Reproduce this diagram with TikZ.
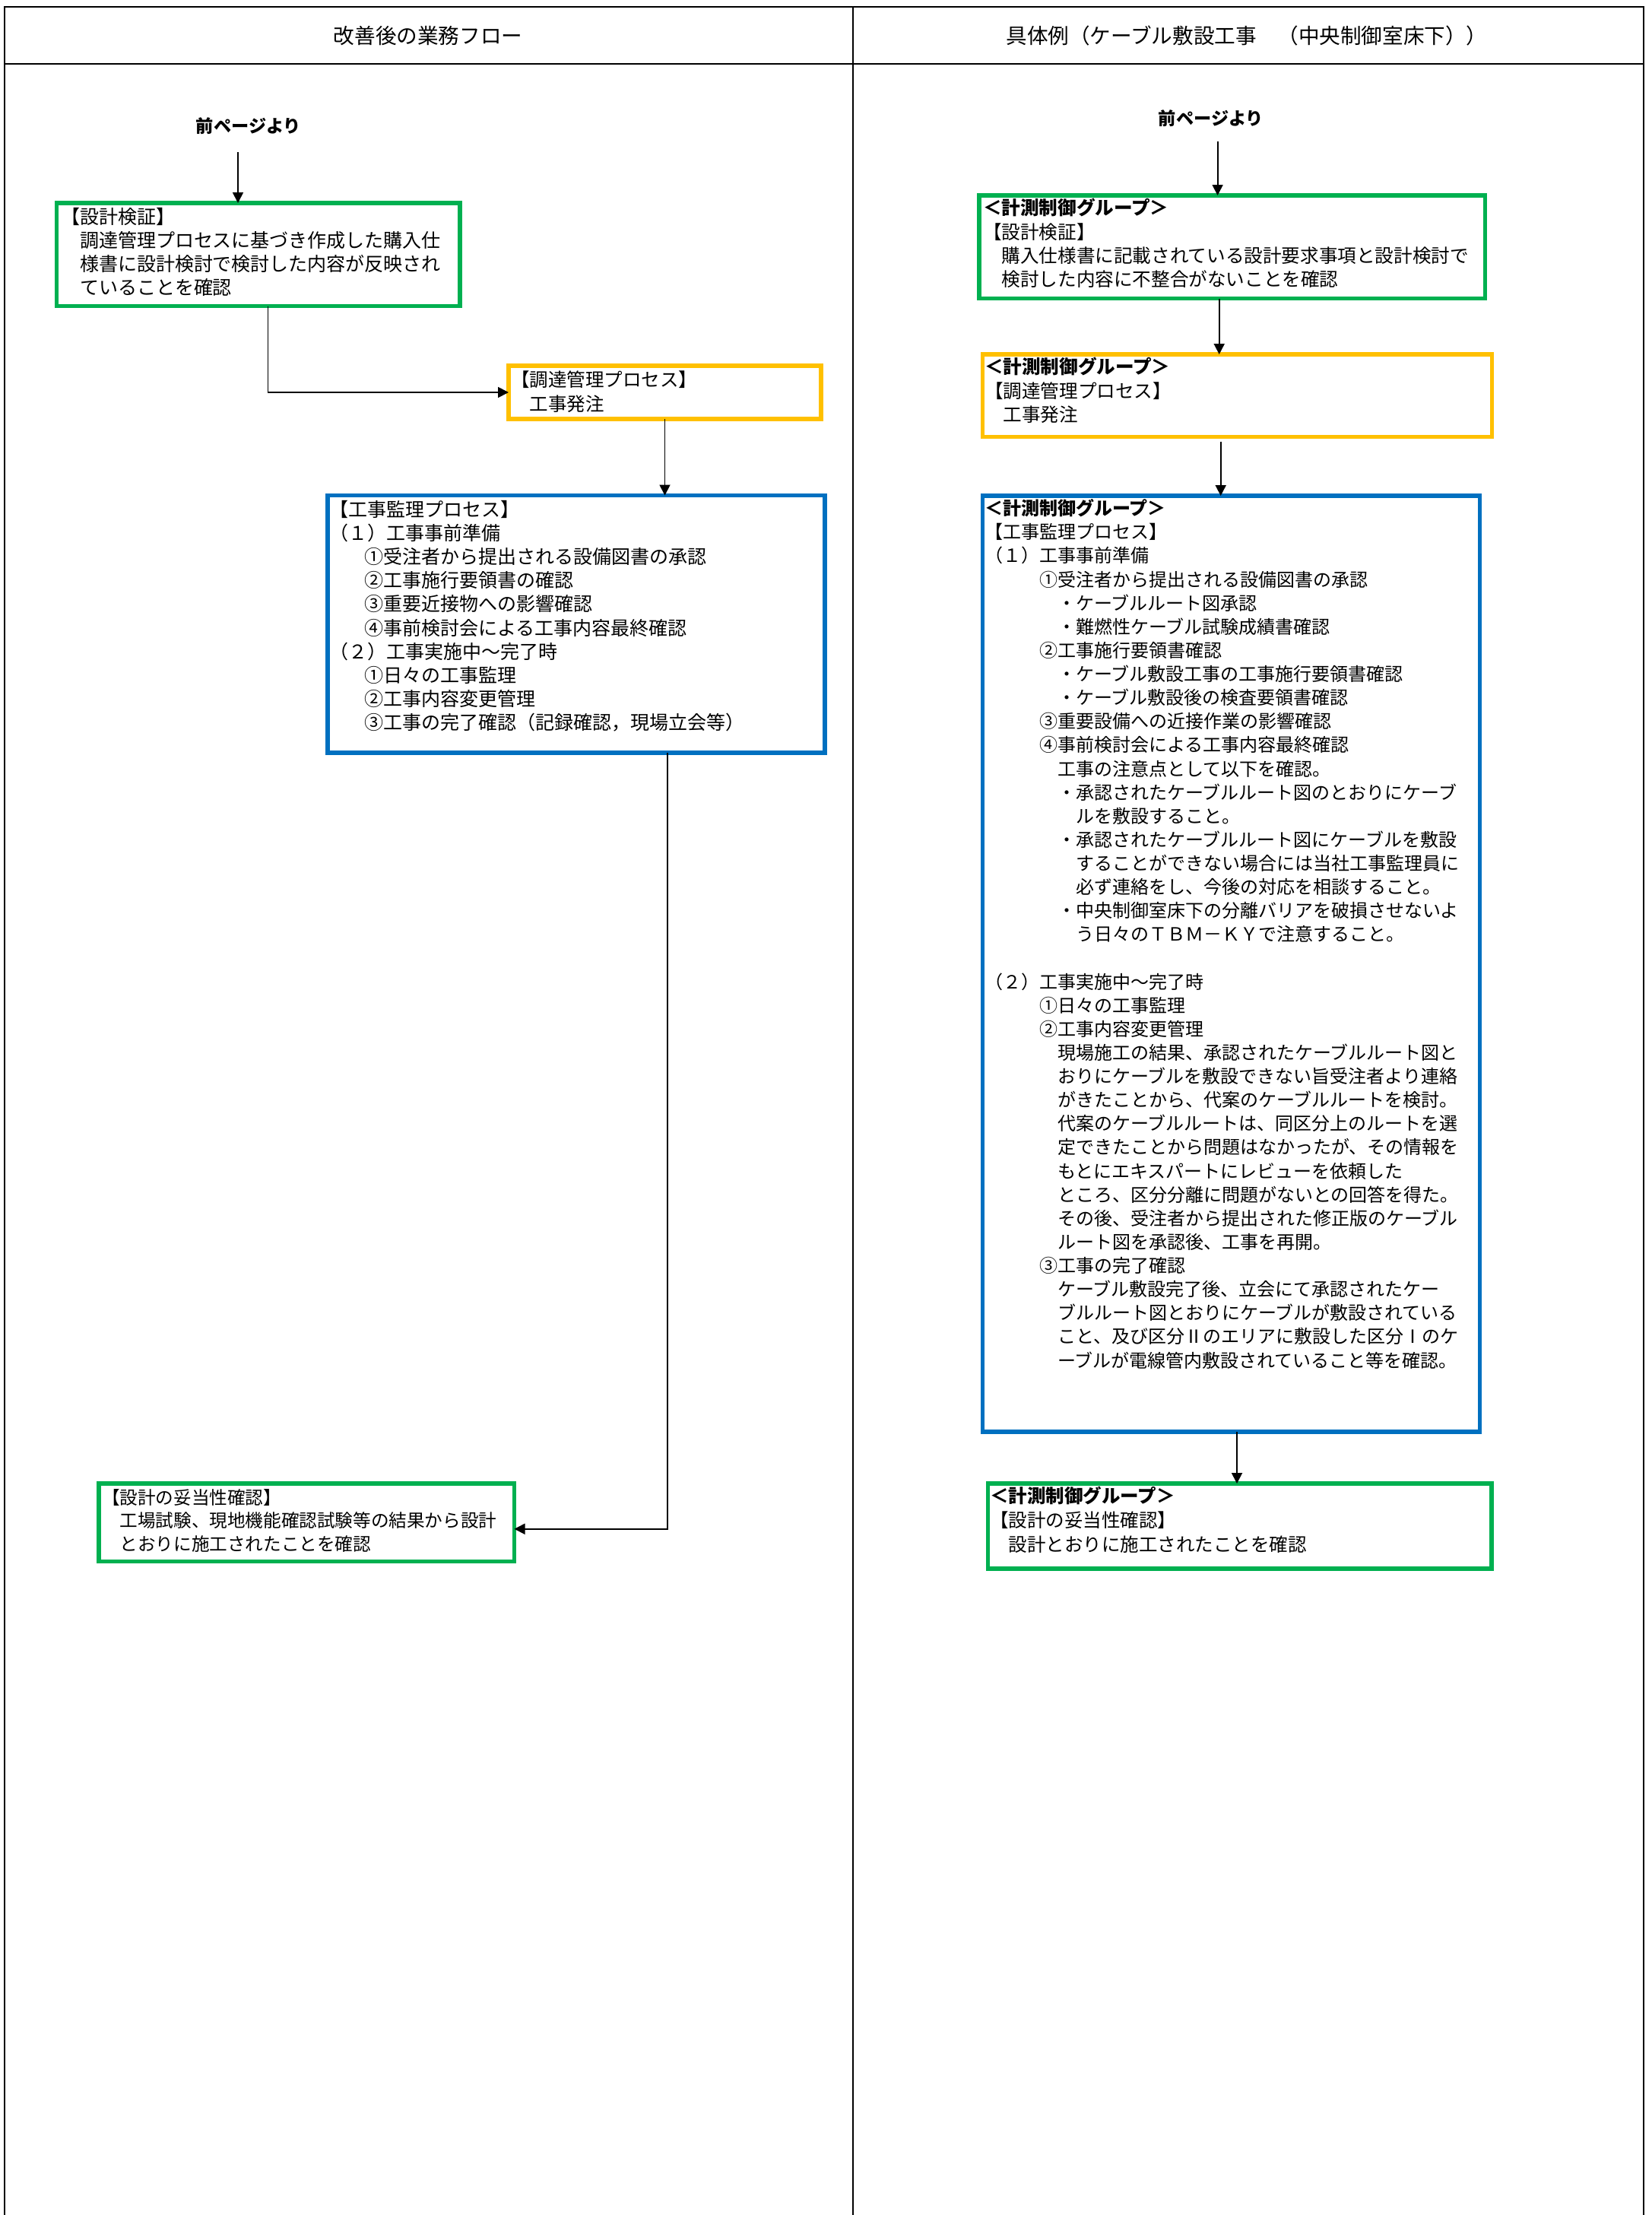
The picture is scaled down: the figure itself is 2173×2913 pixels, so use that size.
\documentclass[tikz,border=0pt]{standalone}
\usepackage{fontspec}
\setmainfont{Noto Sans CJK JP}
\usetikzlibrary{arrows.meta,fit,calc}
\definecolor{xgreen}{HTML}{00B050}
\definecolor{xyellow}{HTML}{FFC000}
\definecolor{xblue}{HTML}{0070C0}
\newcommand\ind[1]{\hspace*{#1em}}
\newcommand\flowbox[6]{\node[#2, fit={(#3,#4) (#5,#6)}] (#1) {};}
\tikzset{
  outerline/.style={line width=1.1pt, line cap=rect},
  boxgreen/.style={draw=xgreen, line width=2.8pt, inner sep=0pt, outer sep=0pt},
  boxyellow/.style={draw=xyellow, line width=2.8pt, inner sep=0pt, outer sep=0pt},
  boxblue/.style={draw=xblue, line width=2.8pt, inner sep=0pt, outer sep=0pt},
  arr/.style={line width=0.9pt, -{Triangle[length=7pt,width=7pt]}},
  txt/.style={anchor=base west, inner sep=0pt, outer sep=0pt},
  ttl/.style={inner sep=0pt, font=\fontsize{13.8pt}{16pt}\selectfont},
  src/.style={inner sep=0pt, font=\bfseries\fontsize{11.6pt}{14pt}\selectfont},
}
\begin{document}
\begin{tikzpicture}[x=0.5pt,y=-0.5pt]
\useasboundingbox (0,0) rectangle (2173,2913);
% frame
\draw[outerline] (6,9) -- (2162,9);
\draw[outerline] (6,84) -- (2162,84);
\draw[outerline] (6,9) -- (6,2913);
\draw[outerline] (1122,9) -- (1122,2913);
\draw[outerline] (2162,9) -- (2162,2913);
% titles
\node[ttl] (t1) at (563,47) {改善後の業務フロー};
\node[ttl] (t2) at (1640,46.5) {具体例（ケーブル敷設工事\hspace{1em}（中央制御室床下））};
\node[src] (s1) at (327,166) {前ページより};
\node[src] (s2) at (1593,156) {前ページより};
% boxes
\flowbox{lg1}{boxgreen}{74.5}{267}{605}{402.5}
\flowbox{ly1}{boxyellow}{669}{481}{1080}{551}
\flowbox{lb1}{boxblue}{431}{651.5}{1085}{990}
\flowbox{lg2}{boxgreen}{130}{1951}{676.5}{2053.5}
\flowbox{rg1}{boxgreen}{1288}{257}{1953.5}{392.5}
\flowbox{ry2}{boxyellow}{1292.5}{466}{1962.5}{574.5}
\flowbox{rb3}{boxblue}{1292.5}{652}{1946.5}{1883}
\flowbox{rg4}{boxgreen}{1299.5}{1951}{1962}{2063}
% left texts
\node[txt, font=\fontsize{12.5pt}{15.5pt}\selectfont] (lt1) at (80,294.5) {\parbox[t]{600pt}{%
【設計検証】\\%
\ind1調達管理プロセスに基づき作成した購入仕\\%
\ind1様書に設計検討で検討した内容が反映され\\%
\ind1ていることを確認}};
\node[txt, font=\fontsize{12.25pt}{16.15pt}\selectfont] (lt2) at (672,508) {\parbox[t]{600pt}{%
【調達管理プロセス】\\%
\ind1工事発注}};
\node[txt, font=\fontsize{12.5pt}{15.55pt}\selectfont] (lt3) at (433,679.5) {\parbox[t]{600pt}{%
【工事監理プロセス】\\%
（１）工事事前準備\\%
\hspace*{23pt}①受注者から提出される設備図書の承認\\%
\hspace*{23pt}②工事施行要領書の確認\\%
\hspace*{23pt}③重要近接物への影響確認\\%
\hspace*{23pt}④事前検討会による工事内容最終確認\\%
（２）工事実施中～完了時\\%
\hspace*{23pt}①日々の工事監理\\%
\hspace*{23pt}②工事内容変更管理\\%
\hspace*{23pt}③工事の完了確認（記録確認，現場立会等）}};
\node[txt, font=\fontsize{11.8pt}{15.4pt}\selectfont] (lt4) at (134,1978) {\parbox[t]{600pt}{%
【設計の妥当性確認】\\%
\ind1工場試験、現地機能確認試験等の結果から設計\\%
\ind1とおりに施工されたことを確認}};
% right texts
\node[txt, font=\fontsize{12.3pt}{15.65pt}\selectfont] (rt1) at (1293,282.8) {\parbox[t]{600pt}{%
{\bfseries ＜計測制御グループ＞}\\%
【設計検証】\\%
\ind1購入仕様書に記載されている設計要求事項と設計検討で\\%
\ind1検討した内容に不整合がないことを確認}};
\node[txt, font=\fontsize{12.3pt}{15.75pt}\selectfont] (rt2) at (1295,491.7) {\parbox[t]{600pt}{%
{\bfseries ＜計測制御グループ＞}\\%
【調達管理プロセス】\\%
\ind1工事発注}};
\node[txt, font=\fontsize{12pt}{15.56pt}\selectfont] (rt3) at (1295,677.7) {\parbox[t]{600pt}{%
{\bfseries ＜計測制御グループ＞}\\%
【工事監理プロセス】\\%
（１）工事事前準備\\%
\ind3①受注者から提出される設備図書の承認\\%
\ind4・ケーブルルート図承認\\%
\ind4・難燃性ケーブル試験成績書確認\\%
\ind3②工事施行要領書確認\\%
\ind4・ケーブル敷設工事の工事施行要領書確認\\%
\ind4・ケーブル敷設後の検査要領書確認\\%
\ind3③重要設備への近接作業の影響確認\\%
\ind3④事前検討会による工事内容最終確認\\%
\ind4工事の注意点として以下を確認。\\%
\ind4・承認されたケーブルルート図のとおりにケーブ\\%
\ind5ルを敷設すること。\\%
\ind4・承認されたケーブルルート図にケーブルを敷設\\%
\ind5することができない場合には当社工事監理員に\\%
\ind5必ず連絡をし、今後の対応を相談すること。\\%
\ind4・中央制御室床下の分離バリアを破損させないよ\\%
\ind5う日々のＴＢＭ－ＫＹで注意すること。\\%
\mbox{}\\%
（２）工事実施中～完了時\\%
\ind3①日々の工事監理\\%
\ind3②工事内容変更管理\\%
\ind4現場施工の結果、承認されたケーブルルート図と\\%
\ind4おりにケーブルを敷設できない旨受注者より連絡\\%
\ind4がきたことから、代案のケーブルルートを検討。\\%
\ind4代案のケーブルルートは、同区分上のルートを選\\%
\ind4定できたことから問題はなかったが、その情報を\\%
\ind4もとにエキスパートにレビューを依頼した\\%
\ind4ところ、区分分離に問題がないとの回答を得た。\\%
\ind4その後、受注者から提出された修正版のケーブル\\%
\ind4ルート図を承認後、工事を再開。\\%
\ind3③工事の完了確認\\%
\ind4ケーブル敷設完了後、立会にて承認されたケー\\%
\ind4ブルルート図とおりにケーブルが敷設されている\\%
\ind4こと、及び区分Ⅱのエリアに敷設した区分Ⅰのケ\\%
\ind4ーブルが電線管内敷設されていること等を確認。}};
\node[txt, font=\fontsize{12.25pt}{15.9pt}\selectfont] (rt4) at (1302,1976.7) {\parbox[t]{600pt}{%
{\bfseries ＜計測制御グループ＞}\\%
【設計の妥当性確認】\\%
\ind1設計とおりに施工されたことを確認}};
% left connectors
\coordinate (la0) at (313,200);
\draw[arr] (la0) -- (la0 |- lg1.north);
\coordinate (la1) at ($(lg1.south west)+(277.9,0)$);
\draw[arr] (la1) |- (ly1.west);
\draw[arr] (ly1.south) -- (ly1.south |- lb1.north);
\coordinate (la3) at ($(lb1.south west)+(446.8,0)$);
\coordinate (la3e) at ($(lg2.east)+(0,8.5)$);
\draw[arr] (la3) |- (la3e);
% right connectors
\coordinate (ra0) at (1601.6,186);
\draw[arr] (ra0) -- (ra0 |- rg1.north);
\coordinate (ra1) at ($(rg1.south west)+(315.7,0)$);
\draw[arr] (ra1) -- (ra1 |- ry2.north);
\coordinate (ra2) at ($(ry2.south west)+(313.2,6)$);
\draw[arr] (ra2) -- (ra2 |- rb3.north);
\coordinate (ra3) at ($(rb3.south west)+(334.5,0)$);
\draw[arr] (ra3) -- (ra3 |- rg4.north);
\end{tikzpicture}
\end{document}
